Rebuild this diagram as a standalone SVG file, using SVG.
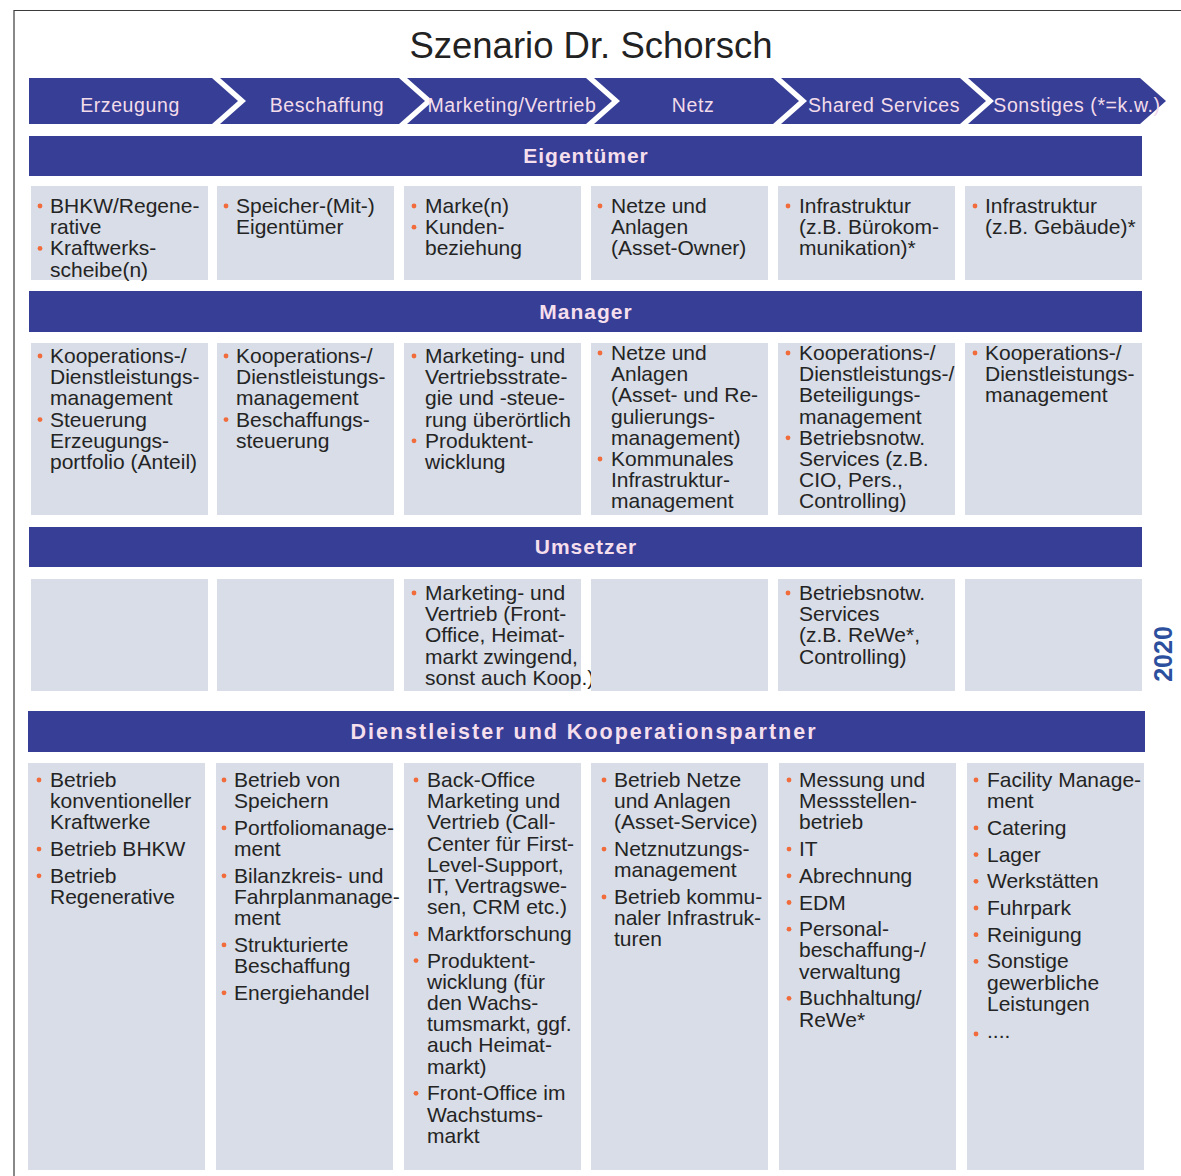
<svg xmlns="http://www.w3.org/2000/svg" width="1181" height="1176" viewBox="0 0 1181 1176">
<style>
  .frame{fill:none;stroke:#3a3a3a;stroke-width:1.2}
  .bar{fill:#373e96}
  .cell{fill:#d8dde7}
  .title{font-family:"Liberation Sans",Arial,sans-serif;font-size:36.5px;fill:#222;text-anchor:middle}
  .cl{font-family:"Liberation Sans",Arial,sans-serif;font-size:19.5px;fill:#f3dcea;text-anchor:middle;letter-spacing:0.6px}
  .bl{font-family:"Liberation Sans",Arial,sans-serif;font-weight:bold;font-size:21px;fill:#f6dfec;text-anchor:middle;letter-spacing:1px}
  .t{font-family:"Liberation Sans",Arial,sans-serif;font-size:21px;fill:#242424}
  .b{fill:#f26b3a}
  .yr{font-family:"Liberation Sans",Arial,sans-serif;font-weight:bold;font-size:25px;fill:#2c4f9e;text-anchor:middle}
</style>
<rect width="1181" height="1176" fill="#ffffff"/>
<!-- outer frame (top and left edges) -->
<path class="frame" d="M14,1176 V10.5 H1181"/>

<text class="title" x="591" y="58">Szenario Dr. Schorsch</text>

<!-- value chain chevrons -->
<g id="chain">
  <g id="ch-erzeugung"><polygon class="bar" points="29,78 212,78 238,101 212,124 29,124"/><text class="cl" x="130" y="112">Erzeugung</text></g>
  <g id="ch-beschaffung"><polygon class="bar" points="220,78 399,78 425,101 399,124 220,124 246,101"/><text class="cl" x="327" y="112">Beschaffung</text></g>
  <g id="ch-marketing"><polygon class="bar" points="407,78 586,78 612,101 586,124 407,124 433,101"/><text class="cl" x="512" y="112">Marketing/Vertrieb</text></g>
  <g id="ch-netz"><polygon class="bar" points="594,78 773,78 799,101 773,124 594,124 620,101"/><text class="cl" x="693" y="112">Netz</text></g>
  <g id="ch-shared"><polygon class="bar" points="781,78 960,78 986,101 960,124 781,124 807,101"/><text class="cl" x="884" y="112">Shared Services</text></g>
  <g id="ch-sonstiges"><polygon class="bar" points="968,78 1140,78 1166,101 1140,124 968,124 994,101"/><text class="cl" x="1077" y="112">Sonstiges (*=k.w.)</text></g>
</g>

<!-- role bars -->
<g id="bar-eigentuemer"><rect class="bar" x="29" y="136" width="1113" height="40"/><text class="bl" x="586" y="163">Eigentümer</text></g>
<g id="bar-manager"><rect class="bar" x="29" y="291" width="1113" height="41"/><text class="bl" x="586" y="319">Manager</text></g>
<g id="bar-umsetzer"><rect class="bar" x="29" y="527" width="1113" height="40"/><text class="bl" x="586" y="554">Umsetzer</text></g>
<g id="bar-dienstleister"><rect class="bar" x="28" y="711" width="1117" height="41"/><text class="bl" x="584" y="739" style="letter-spacing:2px;font-size:21.5px">Dienstleister und Kooperationspartner</text></g>

<!-- Eigentümer row -->
<g id="e1"><rect class="cell" x="31" y="186" width="177" height="94"/>
  <circle class="b" cx="40" cy="206" r="2.4"/><circle class="b" cx="40" cy="248.4" r="2.4"/>
  <text class="t"><tspan x="50" y="213">BHKW/Regene-</tspan><tspan x="50" y="234.2">rative</tspan><tspan x="50" y="255.4">Kraftwerks-</tspan><tspan x="50" y="276.6">scheibe(n)</tspan></text></g>
<g id="e2"><rect class="cell" x="217" y="186" width="177" height="94"/>
  <circle class="b" cx="226" cy="206" r="2.4"/>
  <text class="t"><tspan x="236" y="213">Speicher-(Mit-)</tspan><tspan x="236" y="234.2">Eigentümer</tspan></text></g>
<g id="e3"><rect class="cell" x="404" y="186" width="177" height="94"/>
  <circle class="b" cx="414" cy="206" r="2.4"/><circle class="b" cx="414" cy="227.2" r="2.4"/>
  <text class="t"><tspan x="425" y="213">Marke(n)</tspan><tspan x="425" y="234.2">Kunden-</tspan><tspan x="425" y="255.4">beziehung</tspan></text></g>
<g id="e4"><rect class="cell" x="591" y="186" width="177" height="94"/>
  <circle class="b" cx="600" cy="206" r="2.4"/>
  <text class="t"><tspan x="611" y="213">Netze und</tspan><tspan x="611" y="234.2">Anlagen</tspan><tspan x="611" y="255.4">(Asset-Owner)</tspan></text></g>
<g id="e5"><rect class="cell" x="778" y="186" width="177" height="94"/>
  <circle class="b" cx="788" cy="206" r="2.4"/>
  <text class="t"><tspan x="799" y="213">Infrastruktur</tspan><tspan x="799" y="234.2">(z.B. Bürokom-</tspan><tspan x="799" y="255.4">munikation)*</tspan></text></g>
<g id="e6"><rect class="cell" x="965" y="186" width="177" height="94"/>
  <circle class="b" cx="975" cy="206" r="2.4"/>
  <text class="t"><tspan x="985" y="213">Infrastruktur</tspan><tspan x="985" y="234.2">(z.B. Gebäude)*</tspan></text></g>

<!-- Manager row -->
<g id="m1"><rect class="cell" x="31" y="343" width="177" height="172"/>
  <circle class="b" cx="40" cy="356" r="2.4"/><circle class="b" cx="40" cy="419.6" r="2.4"/>
  <text class="t"><tspan x="50" y="363">Kooperations-/</tspan><tspan x="50" y="384.2">Dienstleistungs-</tspan><tspan x="50" y="405.4">management</tspan><tspan x="50" y="426.6">Steuerung</tspan><tspan x="50" y="447.8">Erzeugungs-</tspan><tspan x="50" y="469">portfolio (Anteil)</tspan></text></g>
<g id="m2"><rect class="cell" x="217" y="343" width="177" height="172"/>
  <circle class="b" cx="226" cy="356" r="2.4"/><circle class="b" cx="226" cy="419.6" r="2.4"/>
  <text class="t"><tspan x="236" y="363">Kooperations-/</tspan><tspan x="236" y="384.2">Dienstleistungs-</tspan><tspan x="236" y="405.4">management</tspan><tspan x="236" y="426.6">Beschaffungs-</tspan><tspan x="236" y="447.8">steuerung</tspan></text></g>
<g id="m3"><rect class="cell" x="404" y="343" width="177" height="172"/>
  <circle class="b" cx="414" cy="356" r="2.4"/><circle class="b" cx="414" cy="440.8" r="2.4"/>
  <text class="t"><tspan x="425" y="363">Marketing- und</tspan><tspan x="425" y="384.2">Vertriebsstrate-</tspan><tspan x="425" y="405.4">gie und -steue-</tspan><tspan x="425" y="426.6">rung überörtlich</tspan><tspan x="425" y="447.8">Produktent-</tspan><tspan x="425" y="469">wicklung</tspan></text></g>
<g id="m4"><rect class="cell" x="591" y="343" width="177" height="172"/>
  <circle class="b" cx="600" cy="353" r="2.4"/><circle class="b" cx="600" cy="459" r="2.4"/>
  <text class="t"><tspan x="611" y="360">Netze und</tspan><tspan x="611" y="381.2">Anlagen</tspan><tspan x="611" y="402.4">(Asset- und Re-</tspan><tspan x="611" y="423.6">gulierungs-</tspan><tspan x="611" y="444.8">management)</tspan><tspan x="611" y="466">Kommunales</tspan><tspan x="611" y="487.2">Infrastruktur-</tspan><tspan x="611" y="508.4">management</tspan></text></g>
<g id="m5"><rect class="cell" x="778" y="343" width="177" height="172"/>
  <circle class="b" cx="788" cy="353" r="2.4"/><circle class="b" cx="788" cy="437.8" r="2.4"/>
  <text class="t"><tspan x="799" y="360">Kooperations-/</tspan><tspan x="799" y="381.2">Dienstleistungs-/</tspan><tspan x="799" y="402.4">Beteiligungs-</tspan><tspan x="799" y="423.6">management</tspan><tspan x="799" y="444.8">Betriebsnotw.</tspan><tspan x="799" y="466">Services (z.B.</tspan><tspan x="799" y="487.2">CIO, Pers.,</tspan><tspan x="799" y="508.4">Controlling)</tspan></text></g>
<g id="m6"><rect class="cell" x="965" y="343" width="177" height="172"/>
  <circle class="b" cx="975" cy="353" r="2.4"/>
  <text class="t"><tspan x="985" y="360">Kooperations-/</tspan><tspan x="985" y="381.2">Dienstleistungs-</tspan><tspan x="985" y="402.4">management</tspan></text></g>

<!-- Umsetzer row -->
<g id="u1"><rect class="cell" x="31" y="579" width="177" height="112"/></g>
<g id="u2"><rect class="cell" x="217" y="579" width="177" height="112"/></g>
<g id="u3"><rect class="cell" x="404" y="579" width="177" height="112"/>
  <circle class="b" cx="414" cy="593" r="2.4"/>
  <text class="t"><tspan x="425" y="600">Marketing- und</tspan><tspan x="425" y="621.2">Vertrieb (Front-</tspan><tspan x="425" y="642.4">Office, Heimat-</tspan><tspan x="425" y="663.6">markt zwingend,</tspan><tspan x="425" y="684.8">sonst auch Koop.)</tspan></text></g>
<g id="u4"><rect class="cell" x="591" y="579" width="177" height="112"/></g>
<g id="u5"><rect class="cell" x="778" y="579" width="177" height="112"/>
  <circle class="b" cx="788" cy="593" r="2.4"/>
  <text class="t"><tspan x="799" y="600">Betriebsnotw.</tspan><tspan x="799" y="621.2">Services</tspan><tspan x="799" y="642.4">(z.B. ReWe*,</tspan><tspan x="799" y="663.6">Controlling)</tspan></text></g>
<g id="u6"><rect class="cell" x="965" y="579" width="177" height="112"/></g>

<text class="yr" transform="translate(1172,654) rotate(-90)">2020</text>

<!-- Dienstleister und Kooperationspartner row -->
<g id="d1"><rect class="cell" x="28" y="763" width="177" height="407"/>
  <circle class="b" cx="39" cy="780" r="2.4"/><circle class="b" cx="39" cy="849.1" r="2.4"/><circle class="b" cx="39" cy="875.8" r="2.4"/>
  <text class="t"><tspan x="50" y="787">Betrieb</tspan><tspan x="50" y="808.2">konventioneller</tspan><tspan x="50" y="829.4">Kraftwerke</tspan><tspan x="50" y="856.1">Betrieb BHKW</tspan><tspan x="50" y="882.8">Betrieb</tspan><tspan x="50" y="904">Regenerative</tspan></text></g>
<g id="d2"><rect class="cell" x="216" y="763" width="177" height="407"/>
  <circle class="b" cx="224" cy="780" r="2.4"/><circle class="b" cx="224" cy="827.9" r="2.4"/><circle class="b" cx="224" cy="875.8" r="2.4"/><circle class="b" cx="224" cy="944.9" r="2.4"/><circle class="b" cx="224" cy="992.8" r="2.4"/>
  <text class="t"><tspan x="234" y="787">Betrieb von</tspan><tspan x="234" y="808.2">Speichern</tspan><tspan x="234" y="834.9">Portfoliomanage-</tspan><tspan x="234" y="856.1">ment</tspan><tspan x="234" y="882.8">Bilanzkreis- und</tspan><tspan x="234" y="904">Fahrplanmanage-</tspan><tspan x="234" y="925.2">ment</tspan><tspan x="234" y="951.9">Strukturierte</tspan><tspan x="234" y="973.1">Beschaffung</tspan><tspan x="234" y="999.8">Energiehandel</tspan></text></g>
<g id="d3"><rect class="cell" x="404" y="763" width="177" height="407"/>
  <circle class="b" cx="416" cy="780" r="2.4"/><circle class="b" cx="416" cy="933.9" r="2.4"/><circle class="b" cx="416" cy="960.6" r="2.4"/><circle class="b" cx="416" cy="1093.3" r="2.4"/>
  <text class="t"><tspan x="427" y="787">Back-Office</tspan><tspan x="427" y="808.2">Marketing und</tspan><tspan x="427" y="829.4">Vertrieb (Call-</tspan><tspan x="427" y="850.6">Center für First-</tspan><tspan x="427" y="871.8">Level-Support,</tspan><tspan x="427" y="893">IT, Vertragswe-</tspan><tspan x="427" y="914.2">sen, CRM etc.)</tspan><tspan x="427" y="940.9">Marktforschung</tspan><tspan x="427" y="967.6">Produktent-</tspan><tspan x="427" y="988.8">wicklung (für</tspan><tspan x="427" y="1010">den Wachs-</tspan><tspan x="427" y="1031.2">tumsmarkt, ggf.</tspan><tspan x="427" y="1052.4">auch Heimat-</tspan><tspan x="427" y="1073.6">markt)</tspan><tspan x="427" y="1100.3">Front-Office im</tspan><tspan x="427" y="1121.5">Wachstums-</tspan><tspan x="427" y="1142.7">markt</tspan></text></g>
<g id="d4"><rect class="cell" x="591" y="763" width="177" height="407"/>
  <circle class="b" cx="604" cy="780" r="2.4"/><circle class="b" cx="604" cy="849.1" r="2.4"/><circle class="b" cx="604" cy="897" r="2.4"/>
  <text class="t"><tspan x="614" y="787">Betrieb Netze</tspan><tspan x="614" y="808.2">und Anlagen</tspan><tspan x="614" y="829.4">(Asset-Service)</tspan><tspan x="614" y="856.1">Netznutzungs-</tspan><tspan x="614" y="877.3">management</tspan><tspan x="614" y="904">Betrieb kommu-</tspan><tspan x="614" y="925.2">naler Infrastruk-</tspan><tspan x="614" y="946.4">turen</tspan></text></g>
<g id="d5"><rect class="cell" x="779" y="763" width="177" height="407"/>
  <circle class="b" cx="789" cy="780" r="2.4"/><circle class="b" cx="789" cy="849.1" r="2.4"/><circle class="b" cx="789" cy="875.8" r="2.4"/><circle class="b" cx="789" cy="902.5" r="2.4"/><circle class="b" cx="789" cy="929.2" r="2.4"/><circle class="b" cx="789" cy="998.3" r="2.4"/>
  <text class="t"><tspan x="799" y="787">Messung und</tspan><tspan x="799" y="808.2">Messstellen-</tspan><tspan x="799" y="829.4">betrieb</tspan><tspan x="799" y="856.1">IT</tspan><tspan x="799" y="882.8">Abrechnung</tspan><tspan x="799" y="909.5">EDM</tspan><tspan x="799" y="936.2">Personal-</tspan><tspan x="799" y="957.4">beschaffung-/</tspan><tspan x="799" y="978.6">verwaltung</tspan><tspan x="799" y="1005.3">Buchhaltung/</tspan><tspan x="799" y="1026.5">ReWe*</tspan></text></g>
<g id="d6"><rect class="cell" x="967" y="763" width="177" height="407"/>
  <circle class="b" cx="976" cy="780" r="2.4"/><circle class="b" cx="976" cy="827.9" r="2.4"/><circle class="b" cx="976" cy="854.6" r="2.4"/><circle class="b" cx="976" cy="881.3" r="2.4"/><circle class="b" cx="976" cy="908" r="2.4"/><circle class="b" cx="976" cy="934.7" r="2.4"/><circle class="b" cx="976" cy="961.4" r="2.4"/><circle class="b" cx="976" cy="1034" r="2.4"/>
  <text class="t"><tspan x="987" y="787">Facility Manage-</tspan><tspan x="987" y="808.2">ment</tspan><tspan x="987" y="834.9">Catering</tspan><tspan x="987" y="861.6">Lager</tspan><tspan x="987" y="888.3">Werkstätten</tspan><tspan x="987" y="915">Fuhrpark</tspan><tspan x="987" y="941.7">Reinigung</tspan><tspan x="987" y="968.4">Sonstige</tspan><tspan x="987" y="989.6">gewerbliche</tspan><tspan x="987" y="1010.8">Leistungen</tspan><tspan x="987" y="1037.5">....</tspan></text></g>
</svg>
